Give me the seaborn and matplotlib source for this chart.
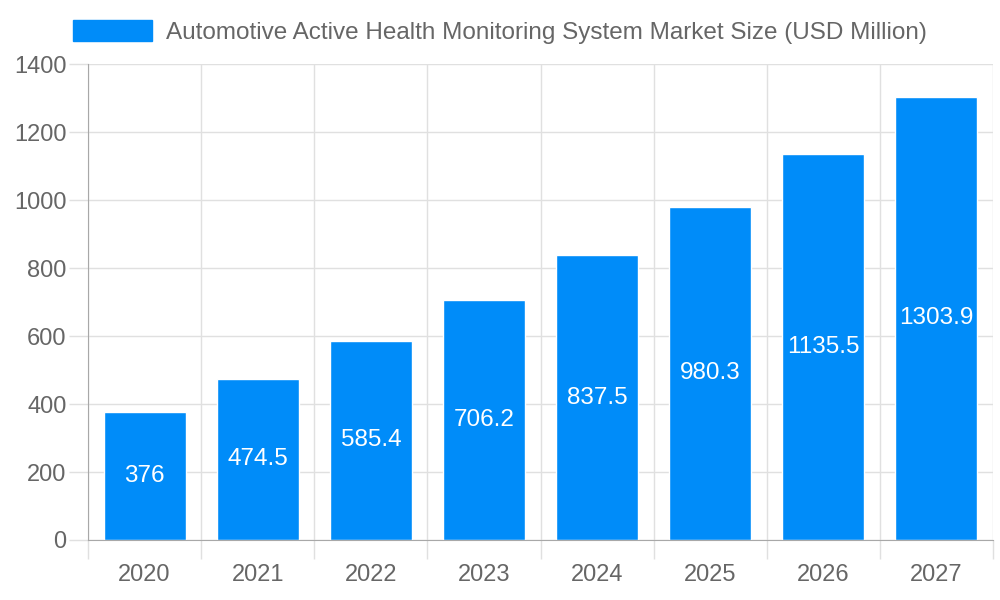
import matplotlib
matplotlib.use("Agg")
import matplotlib.pyplot as plt
import seaborn as sns
import pandas as pd
import numpy as np
from matplotlib.patches import Patch

# Chart data
years = ["2020", "2021", "2022", "2023", "2024", "2025", "2026", "2027"]
market_size = [376, 474.5, 585.4, 706.2, 837.5, 980.3, 1135.5, 1303.9]
value_labels = ["376", "474.5", "585.4", "706.2", "837.5", "980.3", "1135.5", "1303.9"]
series_name = "Automotive Active Health Monitoring System Market Size (USD Million)"

df = pd.DataFrame({"Year": years, "Value": market_size})

sns.set_style("white")
plt.rcParams["font.family"] = ["Liberation Sans", "DejaVu Sans"]

bar_color = "#008CF9"
text_color = "#666666"
grid_color = "#E0E0E0"
axis_color = "#A8A8A8"

fig = plt.figure(figsize=(10, 6), dpi=100)
ax = fig.add_axes([0.088, 0.1, 0.905, 0.7933])

sns.barplot(data=df, x="Year", y="Value", color=bar_color, width=0.725,
            saturation=1, ax=ax)

# Value labels inside bars
for i, (v, lab) in enumerate(zip(market_size, value_labels)):
    ax.text(i, v / 2, lab, ha="center", va="center", color="white", fontsize=17.5)

ax.set_xlim(-0.5, len(years) - 0.5)
ax.set_ylim(0, 1400)
ax.set_yticks(np.arange(0, 1401, 200))
ax.set_xlabel("")
ax.set_ylabel("")

# Grid: horizontal at y ticks, vertical at category boundaries
ax.set_xticks(np.arange(-0.5, len(years)), minor=True)
ax.grid(axis="y", color=grid_color, linewidth=1)
ax.grid(axis="x", which="minor", color=grid_color, linewidth=1)
ax.set_axisbelow(True)

ax.tick_params(axis="x", which="major", bottom=True, length=0, pad=17,
               labelsize=17, labelcolor=text_color)
ax.tick_params(axis="x", which="minor", bottom=True, length=13.5,
               color=grid_color, width=1)
ax.tick_params(axis="y", left=True, length=14, color=grid_color, width=1, pad=1.5,
               labelsize=17, labelcolor=text_color)

for side in ["top", "right"]:
    ax.spines[side].set_visible(False)
ax.spines["left"].set_color(axis_color)
ax.spines["bottom"].set_color(axis_color)

# Legend at top
handle = Patch(facecolor=bar_color, edgecolor=bar_color)
fig.legend([handle], [series_name], loc="center", bbox_to_anchor=(0.5, 0.947),
           frameon=False, fontsize=17.5, labelcolor=text_color,
           handlelength=3.25, handleheight=1.0, handletextpad=0.55)

fig.savefig("out.png", dpi=100)
